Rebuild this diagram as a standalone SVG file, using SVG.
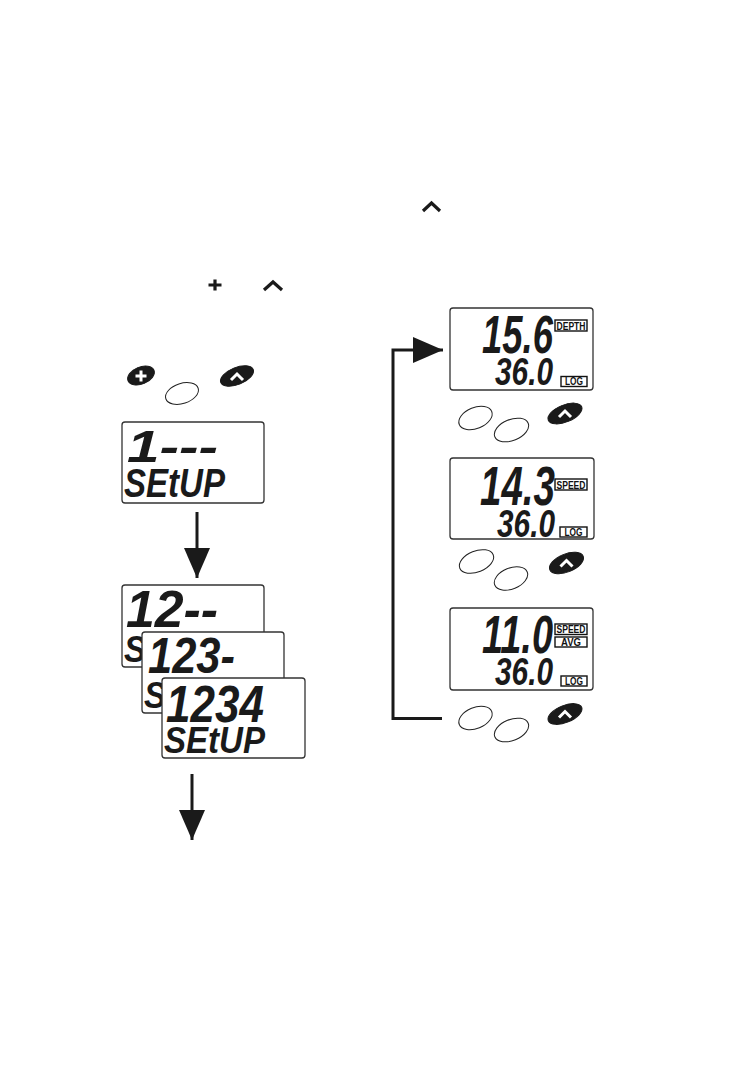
<svg xmlns="http://www.w3.org/2000/svg" width="755" height="1073" viewBox="0 0 755 1073">
<style>
.lcd{fill:#fff;stroke:#333;stroke-width:1.3}
.seg{font-family:"Liberation Sans","DejaVu Sans",sans-serif;font-style:italic;font-weight:bold;fill:#1a1a1a}
.btn{fill:#fff;stroke:#222;stroke-width:1}
.bbtn{fill:#1a1a1a;stroke:#1a1a1a;stroke-width:1}
.lbl{fill:#fff;stroke:#111;stroke-width:1.4}
.lt{font-family:"Liberation Sans","DejaVu Sans",sans-serif;font-weight:bold;font-size:10px;fill:#111;text-anchor:middle}
.icon{fill:none;stroke:#1a1a1a;stroke-width:3.2;stroke-linejoin:miter}
.wicon{fill:none;stroke:#fff;stroke-width:3;stroke-linejoin:miter}
.conn{fill:none;stroke:#1a1a1a;stroke-width:3}
</style>
<defs>
<marker id="ah" markerUnits="userSpaceOnUse" markerWidth="32" markerHeight="28" refX="30" refY="13" orient="auto">
<path d="M0,0 L30,13 L0,26 z" fill="#1a1a1a"/>
</marker>
</defs>
<rect width="755" height="1073" fill="#fff"/>

<g id="icons-top">
<polyline class="icon" points="423,211 431.5,203 440,211"/>
<path d="M208.5,285 h13 M215,279.5 v11" class="icon" stroke-width="3.6"/>
<polyline class="icon" points="264,290 273,282 282,290"/>
</g>

<g id="buttons-start">
<ellipse class="bbtn" cx="141" cy="375.5" rx="14" ry="8.5" transform="rotate(-22 141 375.5)"/>
<path class="wicon" d="M135.5,376 h11 M141,370.5 v11"/>
<ellipse class="btn" cx="182" cy="393.5" rx="17" ry="10" transform="rotate(-18 182 393.5)"/>
<ellipse class="bbtn" cx="237" cy="376" rx="17.5" ry="8.5" transform="rotate(-22 237 376)"/>
<polyline class="wicon" points="231,380 237,374 243,380"/>
</g>

<g id="lcd-1">
<rect class="lcd" x="122" y="422" width="142" height="81" rx="3"/>
<text class="seg" x="127" y="462" font-size="45" textLength="91" lengthAdjust="spacingAndGlyphs">1---</text>
<text class="seg" x="124" y="497" font-size="41" textLength="101" lengthAdjust="spacingAndGlyphs">SEtUP</text>
</g>

<g id="lcd-12">
<rect class="lcd" x="122" y="585" width="142" height="82" rx="3"/>
<text class="seg" x="126" y="627" font-size="51" textLength="92" lengthAdjust="spacingAndGlyphs">12--</text>
<text class="seg" x="124" y="662" font-size="37" textLength="101" lengthAdjust="spacingAndGlyphs">SEtUP</text>
</g>

<g id="lcd-123">
<rect class="lcd" x="142" y="632" width="142" height="81" rx="3"/>
<text class="seg" x="148" y="673" font-size="50" textLength="87" lengthAdjust="spacingAndGlyphs">123-</text>
<text class="seg" x="144" y="708" font-size="36" textLength="101" lengthAdjust="spacingAndGlyphs">SEtUP</text>
</g>

<g id="lcd-1234">
<rect class="lcd" x="162" y="678" width="143" height="80" rx="3"/>
<text class="seg" x="166" y="722" font-size="51" textLength="98" lengthAdjust="spacingAndGlyphs">1234</text>
<text class="seg" x="164" y="753" font-size="36" textLength="101" lengthAdjust="spacingAndGlyphs">SEtUP</text>
</g>

<g id="lcd-depth">
<rect class="lcd" x="450" y="308" width="143" height="82" rx="3"/>
<text class="seg" x="482" y="353" font-size="53" textLength="71" lengthAdjust="spacingAndGlyphs">15.6</text>
<rect class="lbl" x="555" y="320" width="32" height="11"/>
<text class="lt" x="571" y="329.5" textLength="29" lengthAdjust="spacingAndGlyphs">DEPTH</text>
<text class="seg" x="495" y="385" font-size="39" textLength="58" lengthAdjust="spacingAndGlyphs">36.0</text>
<rect class="lbl" x="561" y="376.5" width="26" height="10"/>
<text class="lt" x="574" y="385" font-size="9.5" textLength="18" lengthAdjust="spacingAndGlyphs">LOG</text>
</g>

<g id="buttons-1">
<ellipse class="btn" cx="475.5" cy="418" rx="17.5" ry="10.5" transform="rotate(-22 475.5 418)"/>
<ellipse class="btn" cx="511.5" cy="430" rx="18" ry="10.5" transform="rotate(-22 511.5 430)"/>
<ellipse class="bbtn" cx="565" cy="413.5" rx="18" ry="8.5" transform="rotate(-22 565 413.5)"/>
<polyline class="wicon" points="559,417 565,411 571,417"/>
</g>

<g id="lcd-speed">
<rect class="lcd" x="450" y="458" width="144" height="81" rx="3"/>
<text class="seg" x="480" y="505" font-size="56" textLength="75" lengthAdjust="spacingAndGlyphs">14.3</text>
<rect class="lbl" x="555" y="479" width="32" height="11"/>
<text class="lt" x="571" y="488.5" textLength="29" lengthAdjust="spacingAndGlyphs">SPEED</text>
<text class="seg" x="497" y="537" font-size="39" textLength="58" lengthAdjust="spacingAndGlyphs">36.0</text>
<rect class="lbl" x="560" y="527" width="27" height="10"/>
<text class="lt" x="573.5" y="535.5" font-size="9.5" textLength="18" lengthAdjust="spacingAndGlyphs">LOG</text>
</g>

<g id="buttons-2">
<ellipse class="btn" cx="476.5" cy="561.5" rx="18" ry="10.5" transform="rotate(-22 476.5 561.5)"/>
<ellipse class="btn" cx="511" cy="578.5" rx="17.5" ry="10.5" transform="rotate(-22 511 578.5)"/>
<ellipse class="bbtn" cx="566.5" cy="563" rx="18" ry="9" transform="rotate(-22 566.5 563)"/>
<polyline class="wicon" points="560.5,566.5 566.5,560.5 572.5,566.5"/>
</g>

<g id="lcd-speed-avg">
<rect class="lcd" x="450" y="608" width="143" height="82" rx="3"/>
<text class="seg" x="482" y="653" font-size="53" textLength="71" lengthAdjust="spacingAndGlyphs">11.0</text>
<rect class="lbl" x="555" y="624" width="32" height="10.5"/>
<text class="lt" x="571" y="633" font-size="9.5" textLength="29" lengthAdjust="spacingAndGlyphs">SPEED</text>
<rect class="lbl" x="555" y="637" width="32" height="10"/>
<text class="lt" x="571" y="645.5" font-size="9.5" textLength="20" lengthAdjust="spacingAndGlyphs">AVG</text>
<text class="seg" x="495" y="685" font-size="39" textLength="58" lengthAdjust="spacingAndGlyphs">36.0</text>
<rect class="lbl" x="561" y="676" width="26" height="10"/>
<text class="lt" x="574" y="684.5" font-size="9.5" textLength="18" lengthAdjust="spacingAndGlyphs">LOG</text>
</g>

<g id="buttons-3">
<ellipse class="btn" cx="475.5" cy="718" rx="17.5" ry="10.5" transform="rotate(-22 475.5 718)"/>
<ellipse class="btn" cx="511.5" cy="730" rx="18" ry="10.5" transform="rotate(-22 511.5 730)"/>
<ellipse class="bbtn" cx="565" cy="714" rx="18" ry="8.5" transform="rotate(-22 565 714)"/>
<polyline class="wicon" points="559,717.5 565,711.5 571,717.5"/>
</g>

<g id="connectors">
<line class="conn" x1="197" y1="512" x2="197" y2="578" marker-end="url(#ah)"/>
<line class="conn" x1="192" y1="774" x2="192" y2="840" marker-end="url(#ah)"/>
<polyline class="conn" points="442,718.5 393,718.5 393,350 443,350" marker-end="url(#ah)"/>
</g>
</svg>
